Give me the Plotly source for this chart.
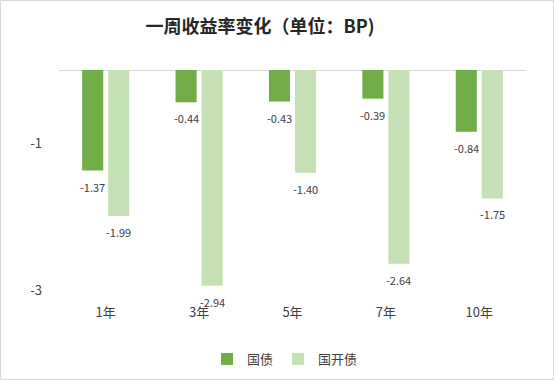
import plotly.graph_objects as go

categories = ["1年", "3年", "5年", "7年", "10年"]
guozhai = [-1.37, -0.44, -0.43, -0.39, -0.84]
guokaizhai = [-1.99, -2.94, -1.40, -2.64, -1.75]
series_names = ["国债", "国开债"]
colors = ["#70AD47", "#C5E0B4"]
y_ticks = [-1, -3]
y_tick_text = ["-1", "-3"]

FONT = "Noto Sans CJK SC, Microsoft YaHei, sans-serif"

fig = go.Figure()
for name, vals, col in zip(series_names, [guozhai, guokaizhai], colors):
    fig.add_trace(go.Bar(
        x=categories, y=vals, name=name, marker=dict(color=col, line=dict(width=0)),
        hoverinfo="skip",
    ))

# data labels below bar ends
for i, vals in enumerate([guozhai, guokaizhai]):
    shift = -13 if i == 0 else 13
    for c, v in zip(categories, vals):
        fig.add_annotation(
            x=c, y=v, xref="x", yref="y", text=f"{v:.2f}", showarrow=False,
            xshift=shift, yshift=-16, yanchor="middle",
            font=dict(family=FONT, size=11, color="#404040"),
        )

W, H = 554, 380
L, R, T, B = 59, 28, 70, 78
pw, ph = W - L - R, H - T - B
# outer border
fig.add_shape(type="rect", xref="paper", yref="paper",
              x0=(0.5 - L) / pw, x1=1 + (R - 0.5) / pw,
              y0=-(B - 0.5) / ph, y1=1 + (T - 0.5) / ph,
              line=dict(color="#D9D9D9", width=1), layer="below")

fig.update_layout(
    width=W, height=H,
    margin=dict(l=L, r=R, t=T, b=B, autoexpand=False),
    paper_bgcolor="white", plot_bgcolor="white",
    barmode="group", bargap=0.443, bargroupgap=0.19,
    title=dict(text="<b>一周收益率变化（单位：BP)</b>", x=260 / W, xanchor="center",
               y=1 - 27 / H, yanchor="middle",
               font=dict(family=FONT, size=18, color="#262626")),
    font=dict(family=FONT, size=13, color="#404040"),
    xaxis=dict(showgrid=False, showline=False, ticks="", ticklabelstandoff=1,
               automargin=False,
               tickfont=dict(family=FONT, size=13, color="#404040")),
    yaxis=dict(range=[-3.16, 0], tickvals=y_ticks, ticktext=y_tick_text,
               showgrid=False, zeroline=True, automargin=False,
               zerolinecolor="#D9D9D9", zerolinewidth=1, showline=False,
               ticklabelstandoff=16,
               tickfont=dict(family=FONT, size=13, color="#404040")),
    legend=dict(orientation="h", x=0.5 - (L - R) / 2 / pw + 8 / pw, xanchor="center",
                y=-(359 - T - ph) / ph, yanchor="middle",
                font=dict(family=FONT, size=13, color="#404040"),
                itemwidth=30, traceorder="normal"),
    showlegend=True,
)

fig.write_html("out.html", config={"displayModeBar": False},
               post_script="document.body.style.margin='0px';document.body.style.padding='0px';")
